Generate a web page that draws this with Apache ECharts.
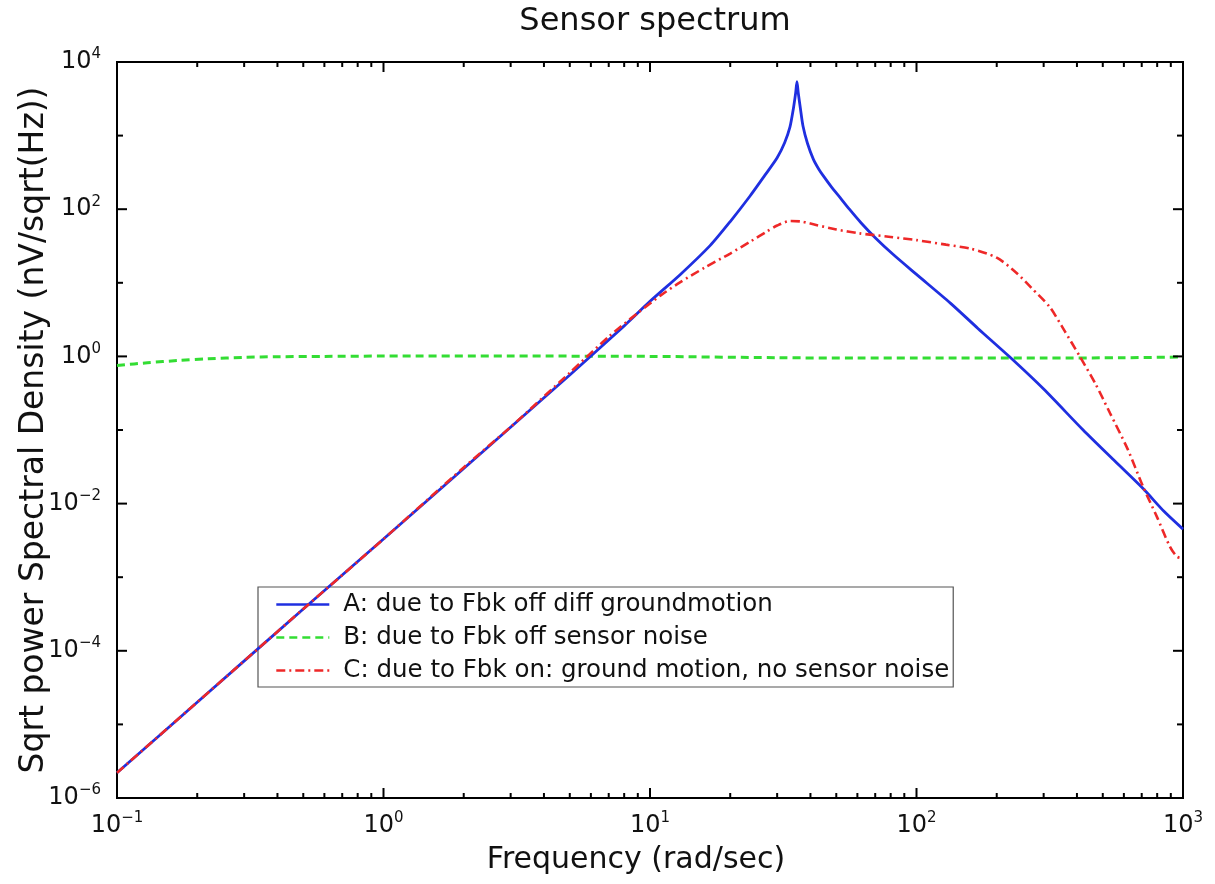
<!DOCTYPE html>
<html><head><meta charset="utf-8">
<script src="https://cdn.jsdelivr.net/npm/echarts@6/dist/echarts.min.js"></script>
<style>html,body{margin:0;padding:0;background:#fff}#c{width:1215px;height:884px}</style>
</head><body><div id="c"></div>
<script>
const titleText = 'Sensor spectrum';
const xAxisName = 'Frequency (rad/sec)';
const yAxisName = 'Sqrt power Spectral Density (nV/sqrt(Hz))';
const nameA = 'A: due to Fbk off diff groundmotion';
const nameB = 'B: due to Fbk off sensor noise';
const nameC = 'C: due to Fbk on: ground motion, no sensor noise';

// Series A (blue, solid)
const freqA = [0.1, 0.2, 0.5, 1, 2, 5, 8, 10, 13, 16.8, 20, 23.7, 27, 30, 32, 33.5, 34.5, 35.2, 35.6, 36, 36.7, 37.5, 39, 41, 43, 45, 48, 51.6, 56, 62, 70, 82, 100, 134, 170, 224, 300, 422, 550, 708, 850, 1000];
const valA  = [2.2e-6, 2.0e-5, 3.7e-4, 3.3e-3, 3.0e-2, 0.56, 2.6, 5.6, 13, 32, 68, 150, 290, 500, 800, 1300, 2300, 3800, 5400, 3800, 2300, 1350, 780, 480, 350, 275, 200, 145, 100, 65, 41, 24, 13, 5.3, 2.4, 0.98, 0.36, 0.1, 0.039, 0.016, 0.0078, 0.0045];

// Series B (green, dashed)
const freqB = [0.1, 0.13, 0.17, 0.22, 0.3, 0.4, 0.6, 1, 3, 10, 30, 60, 100, 300, 600, 1000];
const valB  = [0.75, 0.82, 0.88, 0.93, 0.97, 0.99, 1.0, 1.01, 1.01, 1.0, 0.96, 0.95, 0.95, 0.95, 0.96, 0.98];

// Series C (red, dash-dot)
const freqC = [0.1, 0.2, 0.5, 1, 2, 3, 5, 7, 9, 11, 13, 16, 20, 24, 27.5, 30, 33.5, 37, 42, 50, 61, 80, 100, 129, 160, 200, 238, 270, 316, 360, 410, 470, 532, 620, 708, 800, 893, 950, 1000];
const valC  = [2.2e-6, 2.0e-5, 3.7e-4, 3.3e-3, 3.1e-2, 0.11, 0.6, 1.85, 3.9, 6.8, 10.2, 16, 25, 37, 50, 60, 69, 68, 61, 53, 47, 42, 38, 33, 29, 22, 13.5, 8.5, 4.7, 2.2, 1.0, 0.42, 0.17, 0.055, 0.017, 0.0065, 0.0026, 0.0019, 0.0018];

// Axes ranges and ticks
const X_MIN = 0.1, X_MAX = 1000, Y_MIN = 1e-6, Y_MAX = 1e4;
const xMajorTicks = [0.1, 1, 10, 100, 1000];
const xMinorTicks = [0.2,0.3,0.4,0.5,0.6,0.7,0.8,0.9, 2,3,4,5,6,7,8,9, 20,30,40,50,60,70,80,90, 200,300,400,500,600,700,800,900];
const yMajorTicks = [1e-6, 1e-4, 1e-2, 1, 1e2, 1e4];
const yMinorTicks = [1e-5, 1e-3, 1e-1, 10, 1e3];

const FONT = '"DejaVu Sans", "Liberation Sans", Arial, sans-serif';

function pairs(xs, ys) { return xs.map((x, i) => [x, ys[i]]); }

function expLabel(v) {
  const e = Math.round(Math.log10(v));
  const s = e < 0 ? '\u2212' + (-e) : String(e);
  return '{b|10}{s|' + s + '}';
}
const labelRich = {
  b: { fontSize: 24, fontFamily: FONT, color: '#111', lineHeight: 30 },
  s: { fontSize: 15, fontFamily: FONT, color: '#111', verticalAlign: 'top', lineHeight: 14 }
};

function tickSeries(values, dir, len) {
  return {
    type: 'custom', silent: true, z: 20, clip: false,
    coordinateSystem: 'cartesian2d',
    data: values.map(v => dir === 'x' ? [v, 1] : [1, v]),
    renderItem: function (params, api) {
      const st = { stroke: '#000', lineWidth: 2 };
      if (dir === 'x') {
        const v = api.value(0);
        const b = api.coord([v, Y_MIN]), t = api.coord([v, Y_MAX]);
        return { type: 'group', children: [
          { type: 'line', shape: { x1: b[0], y1: b[1], x2: b[0], y2: b[1] - len }, style: st },
          { type: 'line', shape: { x1: t[0], y1: t[1], x2: t[0], y2: t[1] + len }, style: st }
        ]};
      } else {
        const v = api.value(1);
        const l = api.coord([X_MIN, v]), r = api.coord([X_MAX, v]);
        return { type: 'group', children: [
          { type: 'line', shape: { x1: l[0], y1: l[1], x2: l[0] + len, y2: l[1] }, style: st },
          { type: 'line', shape: { x1: r[0], y1: r[1], x2: r[0] - len, y2: r[1] }, style: st }
        ]};
      }
    }
  };
}

const chart = echarts.init(document.getElementById('c'), null, { renderer: 'canvas' });
chart.setOption({
  backgroundColor: '#fff',
  animation: false,
  title: {
    text: titleText, left: 650, top: 1, textAlign: 'center',
    textStyle: { fontFamily: FONT, fontSize: 32, fontWeight: 'normal', color: '#111' }
  },
  grid: { left: 117, right: 32, top: 62, bottom: 86, show: true, borderColor: '#000', borderWidth: 2, backgroundColor: '#fff' },
  legend: {
    data: [nameA, nameB, nameC],
    orient: 'vertical', left: 258, top: 587,
    padding: [5, 4, 4, 17], itemGap: 8, itemWidth: 53, itemHeight: 24,
    backgroundColor: '#fff', borderColor: '#555', borderWidth: 1.2, borderRadius: 0,
    itemStyle: { color: 'rgba(0,0,0,0)', borderWidth: 0, opacity: 0 },
    lineStyle: { width: 2.6 },
    textStyle: { fontFamily: FONT, fontSize: 24.5, color: '#111', padding: [0, 0, 0, 9] }
  },
  xAxis: {
    type: 'log', logBase: 10, min: X_MIN, max: X_MAX, interval: 1,
    name: xAxisName, nameLocation: 'middle', nameGap: 47, nameMoveOverlap: false,
    nameTextStyle: { fontFamily: FONT, fontSize: 30, color: '#111', padding: [0, 28, 0, 0] },
    axisLine: { show: true, lineStyle: { color: '#000', width: 2 } },
    axisTick: { show: false }, splitLine: { show: false }, minorTick: { show: false },
    axisLabel: { margin: 13, formatter: expLabel, rich: labelRich }
  },
  yAxis: {
    type: 'log', logBase: 10, min: Y_MIN, max: Y_MAX, interval: 2,
    name: yAxisName, nameLocation: 'middle', nameGap: 66, nameMoveOverlap: false,
    nameTextStyle: { fontFamily: FONT, fontSize: 33, color: '#111' },
    axisLine: { show: true, lineStyle: { color: '#000', width: 2 } },
    axisTick: { show: false }, splitLine: { show: false }, minorTick: { show: false },
    axisLabel: { margin: 16, formatter: expLabel, rich: labelRich }
  },
  series: [
    { name: nameA, type: 'line', data: pairs(freqA, valA), showSymbol: false, symbol: 'none', smooth: 0.25, clip: true, z: 5,
      lineStyle: { color: '#1f2fe0', width: 2.8 }, itemStyle: { color: '#1f2fe0' } },
    { name: nameB, type: 'line', data: pairs(freqB, valB), showSymbol: false, symbol: 'none', smooth: 0.3, clip: true, z: 4,
      lineStyle: { color: '#33dd33', width: 3, type: [8, 5] }, itemStyle: { color: '#33dd33' } },
    { name: nameC, type: 'line', data: pairs(freqC, valC), showSymbol: false, symbol: 'none', smooth: 0.25, clip: true, z: 6,
      lineStyle: { color: '#ee2828', width: 2.6, type: [9, 4, 2, 4] }, itemStyle: { color: '#ee2828' } },
    tickSeries(xMajorTicks, 'x', 10),
    tickSeries(xMinorTicks, 'x', 5),
    tickSeries(yMajorTicks, 'y', 10),
    tickSeries(yMinorTicks, 'y', 6)
  ]
});
</script>
</body></html>
